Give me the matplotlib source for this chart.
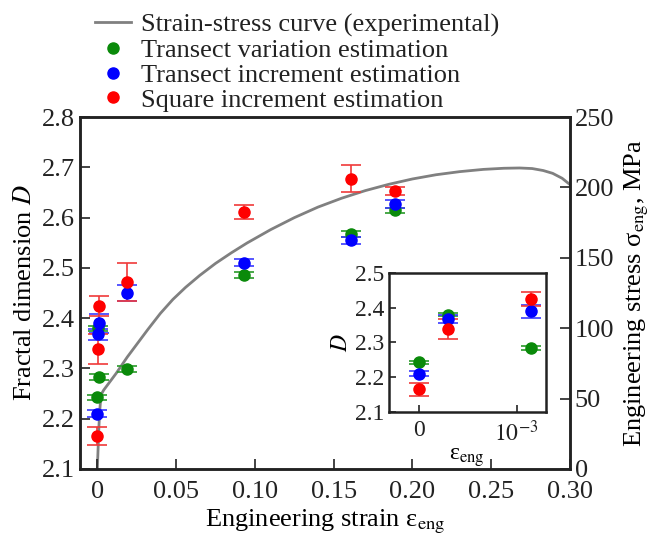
import matplotlib
matplotlib.use("Agg")
import matplotlib.pyplot as plt
import numpy as np

plt.rcParams['font.family'] = ['Liberation Serif', 'DejaVu Serif']
plt.rcParams['mathtext.fontset'] = 'stix'
plt.rcParams['font.size'] = 19

# Stress-strain curve (experimental), right axis (MPa)
curve_strain = [0, 0.0005, 0.001, 0.0015, 0.002, 0.0025, 0.003, 0.004, 0.005, 0.008,
                0.012, 0.019, 0.026, 0.032, 0.040, 0.048, 0.056, 0.065, 0.075, 0.085,
                0.095, 0.11, 0.125, 0.14, 0.155, 0.17, 0.185, 0.20, 0.215, 0.23,
                0.245, 0.258, 0.268, 0.276, 0.283, 0.289, 0.295, 0.30]
curve_stress = [0, 15, 30, 41, 48, 52, 54, 56, 57.5, 62,
                68, 79.5, 90, 99, 110.5, 120.5, 129, 137.5, 146, 153.5,
                160.5, 170, 178.5, 186, 192.3, 197.7, 202.2, 206, 209, 211.2,
                212.8, 213.6, 213.8, 213.4, 212, 210, 206.5, 202]

# Fractal dimension estimates
strain_pts = [0, 0.0003, 0.00115, 0.019, 0.093, 0.161, 0.189]
tv_D = [2.243, 2.380, 2.283, 2.299, 2.485, 2.567, 2.615]
tv_err = [0.005, 0.005, 0.006, 0.006, 0.006, 0.006, 0.005]
ti_D = [2.210, 2.368, 2.390, 2.450, 2.510, 2.555, 2.627]
ti_err = [0.007, 0.011, 0.019, 0.016, 0.007, 0.007, 0.008]
si_D = [2.165, 2.339, 2.424, 2.472, 2.611, 2.677, 2.653]
si_err = [0.018, 0.030, 0.020, 0.038, 0.014, 0.027, 0.008]

series = [
    (tv_D, tv_err, '#0a8a0a', '#2a9a2a', 'Transect variation estimation'),
    (ti_D, ti_err, '#0000ff', '#3a3aff', 'Transect increment estimation'),
    (si_D, si_err, '#ff0000', '#f03a3a', 'Square increment estimation'),
]

fig = plt.figure(figsize=(6.52, 5.41), dpi=100)
ax = fig.add_axes([0.1227, 0.1331, 0.7515, 0.6506])
ax2 = ax.twinx()

curve_line, = ax2.plot(curve_strain, curve_stress, color='#808080', lw=2.0, zorder=1)
ax2.set_ylim(0, 250)
ax2.set_yticks([0, 50, 100, 150, 200, 250])
ax2.set_ylabel('Engineering stress σ$_{\\rm eng}$, MPa', labelpad=6)

ax.set_zorder(ax2.get_zorder() + 1)
ax.patch.set_visible(False)

handles = [curve_line]
for D, err, c, ec, lab in series:
    ax.errorbar(strain_pts, D, yerr=err, fmt='none', ecolor=ec, elinewidth=1.2,
                capsize=7, capthick=1.2, zorder=2)
    h, = ax.plot(strain_pts, D, 'o', color=c, ms=8, zorder=3, label=lab)
    handles.append(h)

ax.set_xlim(-0.011, 0.30)
ax.set_ylim(2.1, 2.8)
ax.set_xticks([0, 0.05, 0.10, 0.15, 0.20, 0.25, 0.30])
ax.set_xticklabels(['0', '0.05', '0.10', '0.15', '0.20', '0.25', '0.30'])
ax.set_yticks(np.arange(2.1, 2.81, 0.1))
ax.set_yticklabels(['2.1', '2.2', '2.3', '2.4', '2.5', '2.6', '2.7', '2.8'])
ax.set_xlabel('Engineering strain ε$_{\\rm eng}$', labelpad=3)
ax.set_ylabel('Fractal dimension $D$', labelpad=4)

for a in (ax, ax2):
    a.tick_params(direction='in', length=7, width=1.2, colors='#222222', labelcolor='#222222')
    for s in a.spines.values():
        s.set_linewidth(1.8)
        s.set_color('#222222')
ax.tick_params(axis='x', pad=9)

labels = ['Strain-stress curve (experimental)'] + [s[4] for s in series]
fig.legend(handles, labels, loc='upper left', bbox_to_anchor=(0.13, 0.995),
           frameon=False, handlelength=1.35, handletextpad=0.4, labelspacing=0.05,
           borderaxespad=0.0, fontsize=19, labelcolor='#222222')

# Inset
ins = fig.add_axes([0.5966, 0.2385, 0.2401, 0.2569])
for D, err, c, ec, lab in series:
    ins.errorbar(strain_pts[:3], D[:3], yerr=err[:3], fmt='none', ecolor=ec,
                 elinewidth=1.2, capsize=7, capthick=1.2, zorder=2)
    ins.plot(strain_pts[:3], D[:3], 'o', color=c, ms=8, zorder=3)
ins.set_xlim(-0.000307, 0.001297)
ins.set_ylim(2.1, 2.5)
ins.set_xticks([0, 0.001])
ins.set_xticklabels(['0', r'$10^{-3}$'], fontsize=17)
ins.set_yticks([2.1, 2.2, 2.3, 2.4, 2.5])
ins.set_yticklabels(['2.1', '2.2', '2.3', '2.4', '2.5'], fontsize=17)
ins.set_xlabel('ε$_{\\rm eng}$', labelpad=0, fontsize=17)
ins.set_ylabel(r'$D$', labelpad=2, fontsize=17)
ins.tick_params(direction='in', length=5, width=1.2, colors='#222222', labelcolor='#222222')
ins.tick_params(axis='x', pad=6)
for s in ins.spines.values():
    s.set_linewidth(1.8)
    s.set_color('#222222')

fig.savefig('out.png', dpi=100)
